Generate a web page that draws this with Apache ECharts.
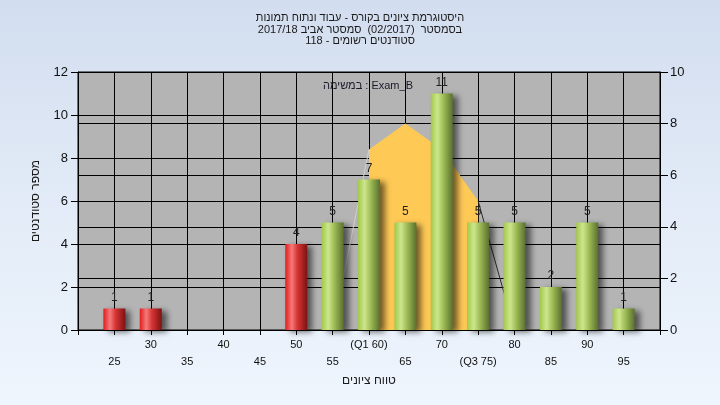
<!DOCTYPE html>
<html>
<head>
<meta charset="utf-8">
<script src="https://cdn.jsdelivr.net/npm/echarts@6/dist/echarts.min.js"></script>
<style>
  html, body { margin: 0; padding: 0; }
  #chart { width: 720px; height: 405px; background: linear-gradient(to bottom, #d2ddef 0%, #e2ebf7 50%, #eef5fd 100%); }
</style>
</head>
<body>
<div id="chart"></div>
<script>
// ---- data ----
const titleLines = [
  'היסטוגרמת ציונים בקורס - עבוד ונתוח תמונות',
  'בסמסטר  (02/2017)  סמסטר אביב 2017/18',
  'סטודנטים רשומים - 118'
];
const legendText = 'במשימה : Exam_B';
const xAxisTitle = 'טווח ציונים';
const yAxisTitle = 'מספר סטודנטים';

const gradeBins = [25, 30, 35, 40, 45, 50, 55, 60, 65, 70, 75, 80, 85, 90, 95];
const studentCounts = [1, 1, 0, 0, 0, 4, 5, 7, 5, 11, 5, 5, 2, 5, 1];

// x tick labels for 20, 25, ..., 100
const xTickLabels = ['', '25', '30', '35', '40', '45', '50', '55', '(Q1 60)', '65', '70', '(Q3 75)', '80', '85', '90', '95', ''];

// distribution curve (right axis)
const curveLeftX = [55, 60];
const curveLeftY = [0, 7];
const curveAreaX = [60, 65, 70, 75];
const curveAreaY = [7, 8, 7, 5];
const curveRightX = [75, 80];
const curveRightY = [5, 0];

const passMark = 55;

// ---- chart ----
const FONT = "'Liberation Sans', Arial, sans-serif";
const zip = (xs, ys) => xs.map((x, i) => [x, ys[i]]);

const redGrad = new echarts.graphic.LinearGradient(0, 0, 1, 0, [
  { offset: 0, color: '#e21c1c' },
  { offset: 0.3, color: '#f47a7a' },
  { offset: 0.55, color: '#d83434' },
  { offset: 1, color: '#7c1212' }
]);
const greenGrad = new echarts.graphic.LinearGradient(0, 0, 1, 0, [
  { offset: 0, color: '#a2c84a' },
  { offset: 0.3, color: '#cde68c' },
  { offset: 0.6, color: '#9ab852' },
  { offset: 1, color: '#5a7030' }
]);

const chart = echarts.init(document.getElementById('chart'), null, { renderer: 'canvas' });

const option = {
  animation: false,
  backgroundColor: 'transparent',
  title: [
    {
      text: titleLines.join('\n'),
      left: 'center',
      top: 7,
      textStyle: { fontFamily: FONT, fontSize: 11, fontWeight: 'normal', color: '#1a1a1a', lineHeight: 11.7 }
    },
    {
      text: legendText,
      left: 318,
      top: 75,
      textStyle: { fontFamily: FONT, fontSize: 11, fontWeight: 'normal', color: '#1a1a2a' }
    }
  ],
  grid: {
    left: 78, right: 60, top: 72, bottom: 75,
    show: true, backgroundColor: '#b4b4b4', borderColor: '#000', borderWidth: 1
  },
  xAxis: {
    type: 'value', min: 20, max: 100, interval: 5,
    axisLine: { show: true, lineStyle: { color: '#000', width: 1 } },
    axisTick: { show: true, length: 5, lineStyle: { color: '#000' } },
    splitLine: { show: true, lineStyle: { color: '#000', width: 1 } },
    axisLabel: {
      fontFamily: FONT, fontSize: 11, color: '#111', lineHeight: 17, margin: 6,
      showMinLabel: true, showMaxLabel: true,
      formatter: function (v) {
        const i = Math.round((v - 20) / 5);
        const t = xTickLabels[i] || '';
        return (i % 2 === 1) ? '\n' + t : t;
      }
    },
    name: xAxisTitle, nameLocation: 'middle', nameGap: 45,
    nameTextStyle: { fontFamily: FONT, fontSize: 12, color: '#1a1a1a' }
  },
  yAxis: [
    {
      type: 'value', min: 0, max: 12, interval: 2, position: 'left',
      axisLine: { show: true, lineStyle: { color: '#000' } },
      axisTick: { show: true, length: 7, lineStyle: { color: '#000' } },
      splitLine: { show: true, lineStyle: { color: '#000', width: 1 } },
      axisLabel: { fontFamily: FONT, fontSize: 13, color: '#111', margin: 10 },
      name: yAxisTitle, nameLocation: 'middle', nameGap: 36, nameRotate: 90,
      nameTextStyle: { fontFamily: FONT, fontSize: 12, color: '#1a1a1a' }
    },
    {
      type: 'value', min: 0, max: 10, interval: 2, position: 'right',
      axisLine: { show: true, lineStyle: { color: '#000' } },
      axisTick: { show: true, length: 8, lineStyle: { color: '#000' } },
      splitLine: { show: true, lineStyle: { color: '#000', width: 1 } },
      axisLabel: { fontFamily: FONT, fontSize: 13, color: '#111', margin: 10 }
    }
  ],
  series: [
    {
      type: 'line', yAxisIndex: 1, data: zip(curveAreaX, curveAreaY),
      symbol: 'none', lineStyle: { width: 0 },
      areaStyle: { color: '#ffc955', opacity: 1 }, z: 1, silent: true
    },
    {
      type: 'line', yAxisIndex: 1, data: zip(curveLeftX, curveLeftY),
      symbol: 'none', lineStyle: { width: 1, color: '#d2d2d2' }, z: 1, silent: true
    },
    {
      type: 'line', yAxisIndex: 1, data: zip(curveRightX, curveRightY),
      symbol: 'none', lineStyle: { width: 1, color: '#2a2a2a' }, z: 1, silent: true
    },
    {
      type: 'bar', yAxisIndex: 0, barWidth: 22, z: 3,
      data: gradeBins.map((g, i) => ({
        value: [g, studentCounts[i]],
        itemStyle: { color: g < passMark ? redGrad : greenGrad }
      })),
      itemStyle: {
        shadowColor: 'rgba(0,0,0,0.55)', shadowBlur: 6, shadowOffsetX: 5, shadowOffsetY: 2
      },
      label: {
        show: true, position: 'top', distance: 5,
        fontFamily: FONT, fontSize: 12, color: '#222',
        formatter: p => (p.value[1] ? String(p.value[1]) : '')
      }
    }
  ]
};

chart.setOption(option);
</script>
</body>
</html>
